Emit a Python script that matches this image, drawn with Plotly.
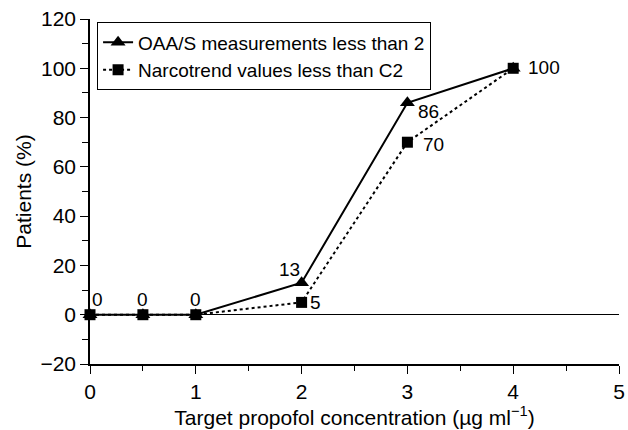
import plotly.graph_objects as go

conc = [0, 0.5, 1, 2, 3, 4]
oaas = [0, 0, 0, 13, 86, 100]
narco = [0, 0, 0, 5, 70, 100]
x_ticks = [0, 1, 2, 3, 4, 5]
y_ticks = [-20, 0, 20, 40, 60, 80, 100, 120]

FONT = "Liberation Sans, Arial, sans-serif"

fig = go.Figure()
fig.add_trace(go.Scatter(
    x=conc, y=oaas, mode="lines+markers", name="OAA/S measurements less than 2",
    line=dict(color="black", width=2),
    marker=dict(symbol="triangle-up", size=13, color="black"),
    cliponaxis=False,
))
fig.add_trace(go.Scatter(
    x=conc, y=narco, mode="lines+markers", name="Narcotrend values less than C2",
    line=dict(color="black", width=2, dash="dot"),
    marker=dict(symbol="square", size=11, color="black"),
    cliponaxis=False,
))

# value labels: (x, y, text, xshift, yshift)
labels = [
    (conc[0], oaas[0], str(oaas[0]), 7, 15),
    (conc[1], oaas[1], str(oaas[1]), 0, 15),
    (conc[2], oaas[2], str(oaas[2]), 0, 15),
    (conc[3], oaas[3], str(oaas[3]), -12, 13),
    (conc[3], narco[3], str(narco[3]), 14, 0),
    (conc[4], oaas[4], str(oaas[4]), 21, -9),
    (conc[4], narco[4], str(narco[4]), 26, -2),
    (conc[5], narco[5], str(narco[5]), 31, 1),
]
for x, y, t, xs, ys in labels:
    fig.add_annotation(x=x, y=y, text=t, showarrow=False, xshift=xs, yshift=ys,
                       font=dict(family=FONT, size=19, color="black"))

fig.update_layout(
    width=628, height=430,
    margin=dict(l=90, r=9, t=19, b=66, autoexpand=False),
    paper_bgcolor="white", plot_bgcolor="white",
    font=dict(family=FONT, size=19, color="black"),
    showlegend=True,
    legend=dict(x=0.013, y=0.991, xanchor="left", yanchor="top",
                bordercolor="black", borderwidth=1.2, bgcolor="white",
                font=dict(family=FONT, size=19), tracegroupgap=0,
                itemwidth=30),
)
fig.update_xaxes(
    range=[0, 5], tickvals=x_ticks, showgrid=False, zeroline=False,
    showline=True, linecolor="black", linewidth=1.5,
    ticks="outside", ticklen=8, tickwidth=1.2, tickcolor="black",
    minor=dict(dtick=0.5, ticks="outside", ticklen=5, tickwidth=1.2, tickcolor="black"),
    title=dict(text="Target propofol concentration (µg ml<sup>−1</sup>)", standoff=8,
               font=dict(size=21)),
    tickfont=dict(size=21),
)
fig.update_yaxes(
    range=[-20, 120], tickvals=y_ticks, showgrid=False,
    zeroline=True, zerolinecolor="black", zerolinewidth=1,
    showline=True, linecolor="black", linewidth=1.5,
    ticks="outside", ticklen=8, tickwidth=1.2, tickcolor="black",
    minor=dict(dtick=10, ticks="outside", ticklen=6, tickwidth=1.2, tickcolor="black"),
    title=dict(text="Patients (%)", standoff=3, font=dict(size=21)),
    tickfont=dict(size=21),
)

fig.write_html("out.html")
